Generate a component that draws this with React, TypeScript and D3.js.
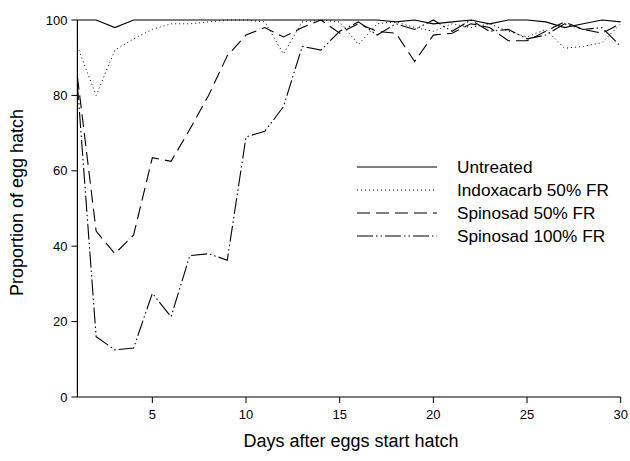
import * as d3 from "d3"

const days = d3.range(1, 31)

const untreated = [100, 100, 98, 100, 100, 100, 100, 100, 100, 100, 100, 100, 100, 100, 100, 100, 100, 99.5, 100, 99, 99.5, 100, 99, 100, 100, 99.5, 98, 99, 100, 99.5]
const indoxacarb50 = [93, 80, 92, 95, 97.5, 99, 99, 99.5, 100, 100, 99.5, 91, 99.5, 100, 99.5, 93.5, 99, 99.5, 98, 97, 99, 98, 99, 97, 95.5, 97.5, 92.5, 93, 94, 99]
const spinosad50 = [85, 44, 38, 43, 63.5, 62.5, 71, 80, 90.5, 96, 98, 95.5, 98, 100, 96.5, 99, 97, 96.5, 89, 96, 96.5, 99, 98, 94.5, 94.5, 97, 99.5, 97.5, 96.5, 99]
const spinosad100 = [83, 16, 12.5, 13, 27.5, 21.3, 37.5, 38, 36.3, 69, 70.5, 77, 93, 92, 97, 99.5, 96, 99, 97.5, 100, 97, 100, 97, 97.5, 95, 96, 99, 97.5, 98, 93]

const xTicks = [5, 10, 15, 20, 25, 30]
const yTicks = [0, 20, 40, 60, 80, 100]

const series = [
  { name: "Untreated", values: untreated, dash: "none", width: 1.2 },
  { name: "Indoxacarb 50% FR", values: indoxacarb50, dash: "1,3", width: 1 },
  { name: "Spinosad 50% FR", values: spinosad50, dash: "13,6", width: 1.1 },
  { name: "Spinosad 100% FR", values: spinosad100, dash: "16,3,1.5,3,1.5,3", width: 1.1 },
]

const W = 630
const H = 461
const FONT = "Liberation Sans, Arial, sans-serif"

export default function App() {
  const x = d3.scaleLinear().domain([1, 30]).range([77.4, 620.7])
  const y = d3.scaleLinear().domain([0, 100]).range([397, 20])

  const line = d3
    .line<number>()
    .x((_, i) => x(days[i]))
    .y((d) => y(d))

  return (
    <div style={{ position: "absolute", left: 0, top: 0 }}>
      <svg width={W} height={H} style={{ display: "block", background: "#fff" }}>
        {series.map((s) => (
          <path
            key={s.name}
            d={line(s.values) || ""}
            fill="none"
            stroke="#000"
            strokeWidth={s.width}
            strokeDasharray={s.dash}
          />
        ))}

        {/* axes */}
        <line x1={x(1)} x2={x(30)} y1={y(0)} y2={y(0)} stroke="#000" strokeWidth={1.2} />
        <line x1={x(1)} x2={x(1)} y1={y(0)} y2={y(100)} stroke="#000" strokeWidth={1.2} />

        {xTicks.map((t) => (
          <g key={t}>
            <line x1={x(t)} x2={x(t)} y1={y(0)} y2={y(0) + 6} stroke="#000" />
            <text
              x={x(t)}
              y={y(0) + 22}
              textAnchor="middle"
              fontFamily={FONT}
              fontSize={13}
            >
              {t}
            </text>
          </g>
        ))}

        {yTicks.map((t) => (
          <g key={t}>
            <line x1={x(1) - 6} x2={x(1)} y1={y(t)} y2={y(t)} stroke="#000" />
            <text
              x={x(1) - 10}
              y={y(t)}
              textAnchor="end"
              dominantBaseline="central"
              fontFamily={FONT}
              fontSize={13}
            >
              {t}
            </text>
          </g>
        ))}

        <text
          x={(x(1) + x(30)) / 2 + 2}
          y={447}
          textAnchor="middle"
          fontFamily={FONT}
          fontSize={18}
        >
          Days after eggs start hatch
        </text>
        <text
          transform={`translate(23,${(y(0) + y(100)) / 2 - 6}) rotate(-90)`}
          textAnchor="middle"
          fontFamily={FONT}
          fontSize={18}
        >
          Proportion of egg hatch
        </text>

        {/* legend */}
        {series.map((s, i) => {
          const ly = 167 + i * 23
          return (
            <g key={s.name}>
              <line
                x1={357}
                x2={437}
                y1={ly}
                y2={ly}
                stroke="#000"
                strokeWidth={s.width}
                strokeDasharray={s.dash}
              />
              <text
                x={457}
                y={ly}
                dominantBaseline="central"
                fontFamily={FONT}
                fontSize={17.2}
              >
                {s.name}
              </text>
            </g>
          )
        })}
      </svg>
    </div>
  )
}
